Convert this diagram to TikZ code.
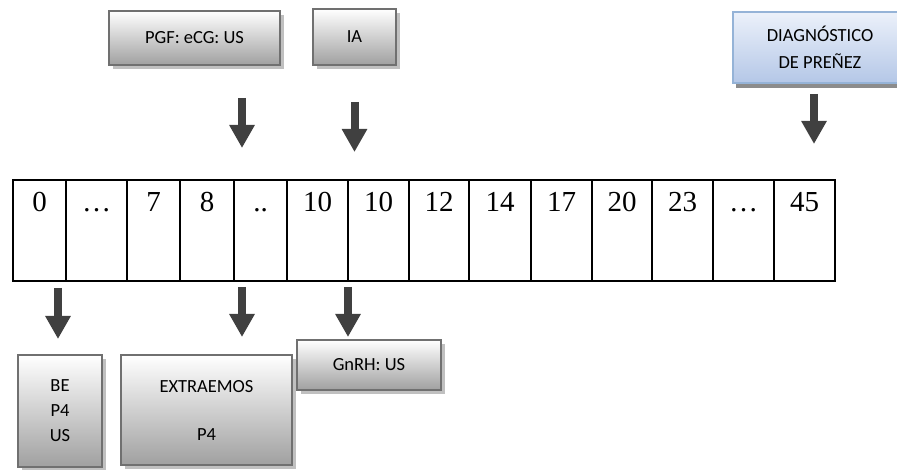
\documentclass[tikz,border=0pt]{standalone}
\usepackage{fontspec}
\setmainfont{Liberation Serif}
\newfontfamily\boxfont{Carlito}
\usetikzlibrary{arrows.meta}
\usetikzlibrary{shadows}
\definecolor{arrowgray}{RGB}{64,64,64}
\definecolor{boxborder}{RGB}{112,112,112}
\definecolor{boxbottom}{RGB}{160,160,160}
\definecolor{shadowgray}{RGB}{192,192,192}
\definecolor{bluetop}{RGB}{236,241,250}
\definecolor{bluebottom}{RGB}{180,199,231}
\definecolor{blueborder}{RGB}{149,179,215}
\tikzstyle{cell}=[draw=black,line width=1.5pt,inner sep=0pt,text height=32pt,text depth=69pt,font=\fontsize{29}{34}\selectfont]
\tikzstyle{graybox}=[draw=boxborder,line width=1.5pt,top color=white,bottom color=boxbottom,
  drop shadow={shadow xshift=4pt,shadow yshift=-4pt,fill=shadowgray,opacity=1},
  inner sep=0pt,align=center,font=\boxfont\fontsize{18.5}{25}\selectfont]
\tikzstyle{bluebox}=[graybox,draw=blueborder,top color=bluetop,bottom color=bluebottom,
  drop shadow={shadow xshift=3pt,shadow yshift=-5pt,fill=black!45,opacity=1},
  font=\boxfont\fontsize{18.5}{27}\selectfont]
\tikzstyle{blockarrow}=[draw=arrowgray,line width=8pt,-{Triangle[width=24pt,length=23pt]}]

\begin{document}
\begin{tikzpicture}[x=1pt,y=-1pt]
  \useasboundingbox (0,0) rectangle (897,470);

  % time line
  \foreach \l/\r/\t [count=\i] in {13/66/0,66/127/…,127/180/7,180/234/8,234/287/..,
      287/348/10,348/409/10,409/469/12,469/531/14,531/592/17,592/652/20,
      652/713/23,713/774/…,774/835/45}{
    \pgfmathsetmacro\w{\r-\l}
    \node[cell,minimum width=\w pt] (cell\i) at ({(\l+\r)/2},230.5) {\t};
  }

  % boxes above
  \node[graybox,minimum width=171pt,minimum height=54pt] (pgf) at (194.5,38) {PGF: eCG: US};
  \node[graybox,minimum width=83pt,minimum height=56pt] (ia) at (354.5,37) {IA};
  \node[bluebox,minimum width=174pt,minimum height=71pt] (diag) at (820,47.5) {DIAGNÓSTICO\\DE PREÑEZ};

  % boxes below
  \node[graybox,minimum width=84pt,minimum height=112pt] (be) at (60,411) {BE\\P4\\US};
  \node[graybox,minimum width=171pt,minimum height=110pt] (extr) at (206.5,410) {EXTRAEMOS\\[23pt]P4};
  \node[graybox,minimum width=144pt,minimum height=50pt] (gnrh) at (369,365) {GnRH: US};

  % arrows
  \coordinate (pgftop) at (242,98);   \coordinate (pgfend) at (242,148);
  \coordinate (iatop) at (354.5,102); \coordinate (iaend) at (354.5,152);
  \coordinate (diagtop) at (814,94);  \coordinate (diagend) at (814,144);
  \coordinate (betop) at (58,288);    \coordinate (beend) at (58,339);
  \coordinate (extrtop) at (242,287); \coordinate (extrend) at (242,337);
  \coordinate (gnrhtop) at (348,287); \coordinate (gnrhend) at (348,337);
  \draw[blockarrow] (pgftop) -- (pgfend);
  \draw[blockarrow] (iatop) -- (iaend);
  \draw[blockarrow] (diagtop) -- (diagend);
  \draw[blockarrow] (betop) -- (beend);
  \draw[blockarrow] (extrtop) -- (extrend);
  \draw[blockarrow] (gnrhtop) -- (gnrhend);
\end{tikzpicture}
\end{document}
